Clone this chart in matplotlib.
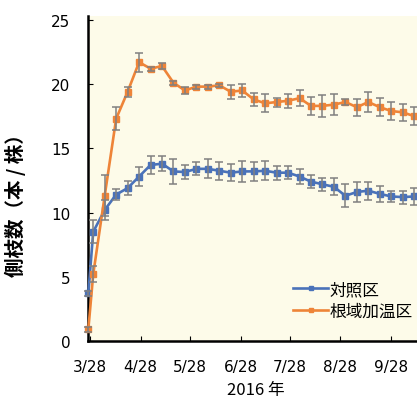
import datetime
import matplotlib
matplotlib.use("Agg")
import matplotlib.pyplot as plt

plt.rcParams['font.family'] = ['Noto Sans CJK JP', 'DejaVu Sans']

# survey dates (2016)
dates = ["3/27", "3/30", "4/6", "4/13", "4/20", "4/27", "5/4", "5/11", "5/18", "5/25",
         "6/1", "6/8", "6/15", "6/22", "6/29", "7/6", "7/13", "7/20", "7/27", "8/3",
         "8/10", "8/17", "8/24", "8/31", "9/7", "9/14", "9/21", "9/28", "10/5", "10/12"]

control = [3.7, 8.5, 10.2, 11.4, 11.9, 12.8, 13.7, 13.8, 13.2, 13.15,
           13.4, 13.4, 13.25, 13.1, 13.2, 13.2, 13.25, 13.1, 13.1, 12.8,
           12.4, 12.2, 12.0, 11.3, 11.6, 11.7, 11.45, 11.25, 11.2, 11.25]
control_err = [0.2, 0.9, 0.8, 0.45, 0.55, 0.75, 0.7, 0.6, 1.0, 0.55,
               0.5, 0.75, 0.7, 0.65, 0.8, 0.75, 0.75, 0.55, 0.5, 0.6,
               0.5, 0.5, 0.65, 0.9, 0.75, 0.7, 0.65, 0.45, 0.5, 0.65]

heated = [0.9, 5.2, 11.3, 17.3, 19.4, 21.7, 21.2, 21.4, 20.1, 19.5,
          19.8, 19.8, 19.9, 19.4, 19.5, 18.8, 18.5, 18.6, 18.7, 18.9,
          18.3, 18.3, 18.4, 18.6, 18.2, 18.6, 18.2, 17.9, 17.8, 17.5]
heated_err = [0.2, 0.6, 1.6, 0.9, 0.4, 0.75, 0.15, 0.2, 0.15, 0.25,
              0.15, 0.15, 0.1, 0.55, 0.5, 0.5, 0.7, 0.35, 0.55, 0.6,
              0.7, 0.85, 0.8, 0.2, 0.65, 0.75, 0.7, 0.7, 0.65, 0.7]

tick_dates = ["3/28", "4/28", "5/28", "6/28", "7/28", "8/28", "9/28"]
y_ticks = [0, 5, 10, 15, 20, 25]


def to_date(s):
    m, d = s.split("/")
    return datetime.date(2016, int(m), int(d))


def main():
    x = [to_date(d) for d in dates]
    fig = plt.figure(figsize=(4.17, 4.02), dpi=100)
    ax = fig.add_axes([0.2118, 0.1493, 0.805, 0.8085])
    ax.set_facecolor("#fdfbe9")

    blue = "#4a72b9"
    orange = "#ee8438"
    ax.plot(x, control, color=blue, lw=1.9, marker="s", ms=3.8, label="対照区",
            clip_on=False, zorder=4)
    ax.plot(x, heated, color=orange, lw=1.9, marker="s", ms=3.8, label="根域加温区",
            clip_on=False, zorder=4)
    ax.errorbar(x, control, yerr=control_err, fmt="none", ecolor="#808080",
                elinewidth=1.1, capsize=2.8, capthick=1.1, zorder=5, clip_on=False)
    ax.errorbar(x, heated, yerr=heated_err, fmt="none", ecolor="#808080",
                elinewidth=1.1, capsize=2.8, capthick=1.1, zorder=5, clip_on=False)

    ax.set_xlim(datetime.date(2016, 3, 27), datetime.date(2016, 10, 18))
    ax.set_ylim(0, 25.3)
    ax.set_yticks(y_ticks)
    ax.set_yticklabels([str(v) for v in y_ticks], family="DejaVu Sans")
    ax.set_xticks([to_date(t) for t in tick_dates])
    ax.set_xticklabels(tick_dates, family="DejaVu Sans")

    for side in ["top", "right"]:
        ax.spines[side].set_visible(False)
    for side in ["left", "bottom"]:
        ax.spines[side].set_linewidth(1.8)
    ax.tick_params(direction="in", length=3.5, width=0.8, labelsize=11, pad=13)

    ax.set_xlabel("2016 年", fontsize=12, labelpad=5)
    ax.set_ylabel("側枝数（本 / 株）", fontsize=14, fontweight="bold")
    ax.yaxis.set_label_coords(-0.185, 0.434)

    ax.legend(loc="upper left", bbox_to_anchor=(0.61, 0.185), frameon=False,
              fontsize=12, handlelength=2.1, handletextpad=0.1, labelspacing=0.3,
              borderpad=0, borderaxespad=0, markerscale=0.7)

    fig.savefig("out.png", dpi=100)
    plt.close()


if __name__ == "__main__":
    main()
